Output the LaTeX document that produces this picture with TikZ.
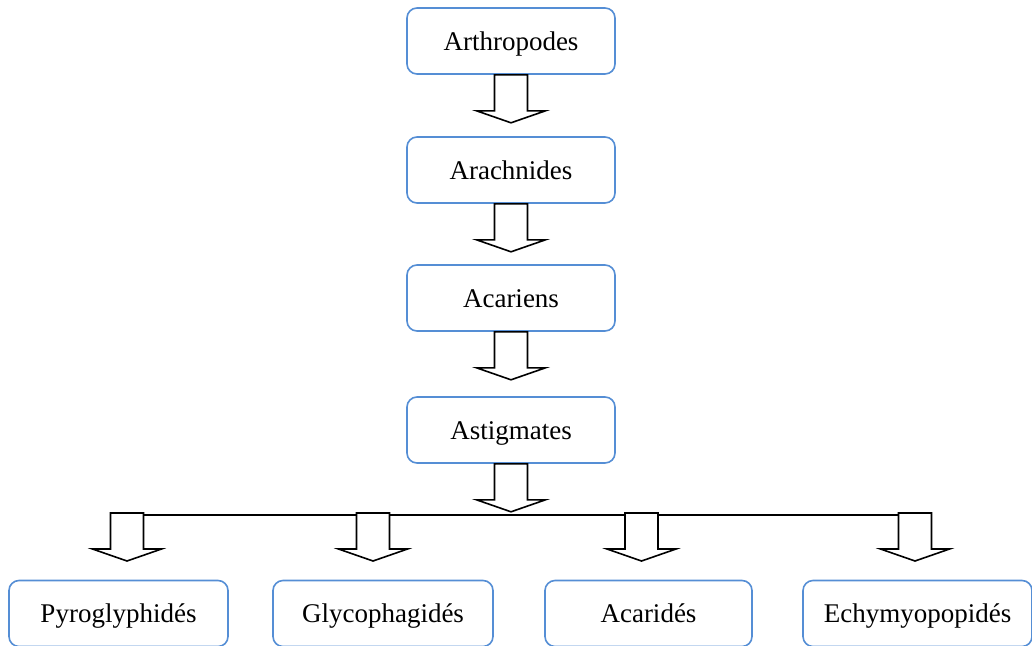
\documentclass[tikz,border=0pt]{standalone}
\usepackage{fontspec}
\setmainfont{Liberation Serif}
\usetikzlibrary{calc}
\definecolor{boxblue}{RGB}{85,142,213}
\tikzset{
  taxon/.style={draw=boxblue, line width=1.6pt, rounded corners=10pt, fill=white,
    minimum height=66pt, inner sep=0pt, text height=22pt, text depth=4pt,
    font=\fontsize{27}{32}\selectfont},
  blockarr/.style={draw=black, line width=1.6pt, fill=white, line join=miter},
  bar/.style={draw=black, line width=1.4pt}
}
% downward block arrow starting at a point
\newcommand\downblock[1]{%
  \draw[blockarr] (#1) ++(-16.5,0) -- ++(0,36) -- ++(-18,0) -- ++(34.5,12)
    -- ++(34.5,-12) -- ++(-18,0) -- ++(0,-36) -- cycle;}
\begin{document}
\begin{tikzpicture}[x=1pt,y=-1pt]
\useasboundingbox (0,0) rectangle (1032,645);
\clip (0,0) rectangle (1032,645);

% main chain
\node[taxon, minimum width=208pt] (arth) at (511,41)  {Arthropodes};
\node[taxon, minimum width=208pt] (arach) at (511,170) {Arachnides};
\node[taxon, minimum width=208pt] (acar) at (511,298) {Acariens};
\node[taxon, minimum width=208pt] (astig) at (511,430) {Astigmates};

% families
\node[taxon, minimum width=219pt] (pyro) at (118.5,613.5) {Pyroglyphidés};
\node[taxon, minimum width=220pt] (glyco) at (383,613.5) {Glycophagidés};
\node[taxon, minimum width=207pt] (acari) at (648.5,613.5) {Acaridés};
\node[taxon, minimum width=229pt] (echy) at (917.5,613.5) {Echymyopopidés};

% branching bar and arrow starts
\coordinate (s1) at (127,513);
\coordinate (s2) at (373,513);
\coordinate (s3) at (641.5,513);
\coordinate (s4) at (915,513);
\draw[bar] ($(s1)+(0,2)$) -- ($(s4)+(0,2)$);

\downblock{arth.south}
\downblock{arach.south}
\downblock{acar.south}
\downblock{s1}
\downblock{s2}
\downblock{s3}
\downblock{s4}
\downblock{astig.south}
\end{tikzpicture}
\end{document}
